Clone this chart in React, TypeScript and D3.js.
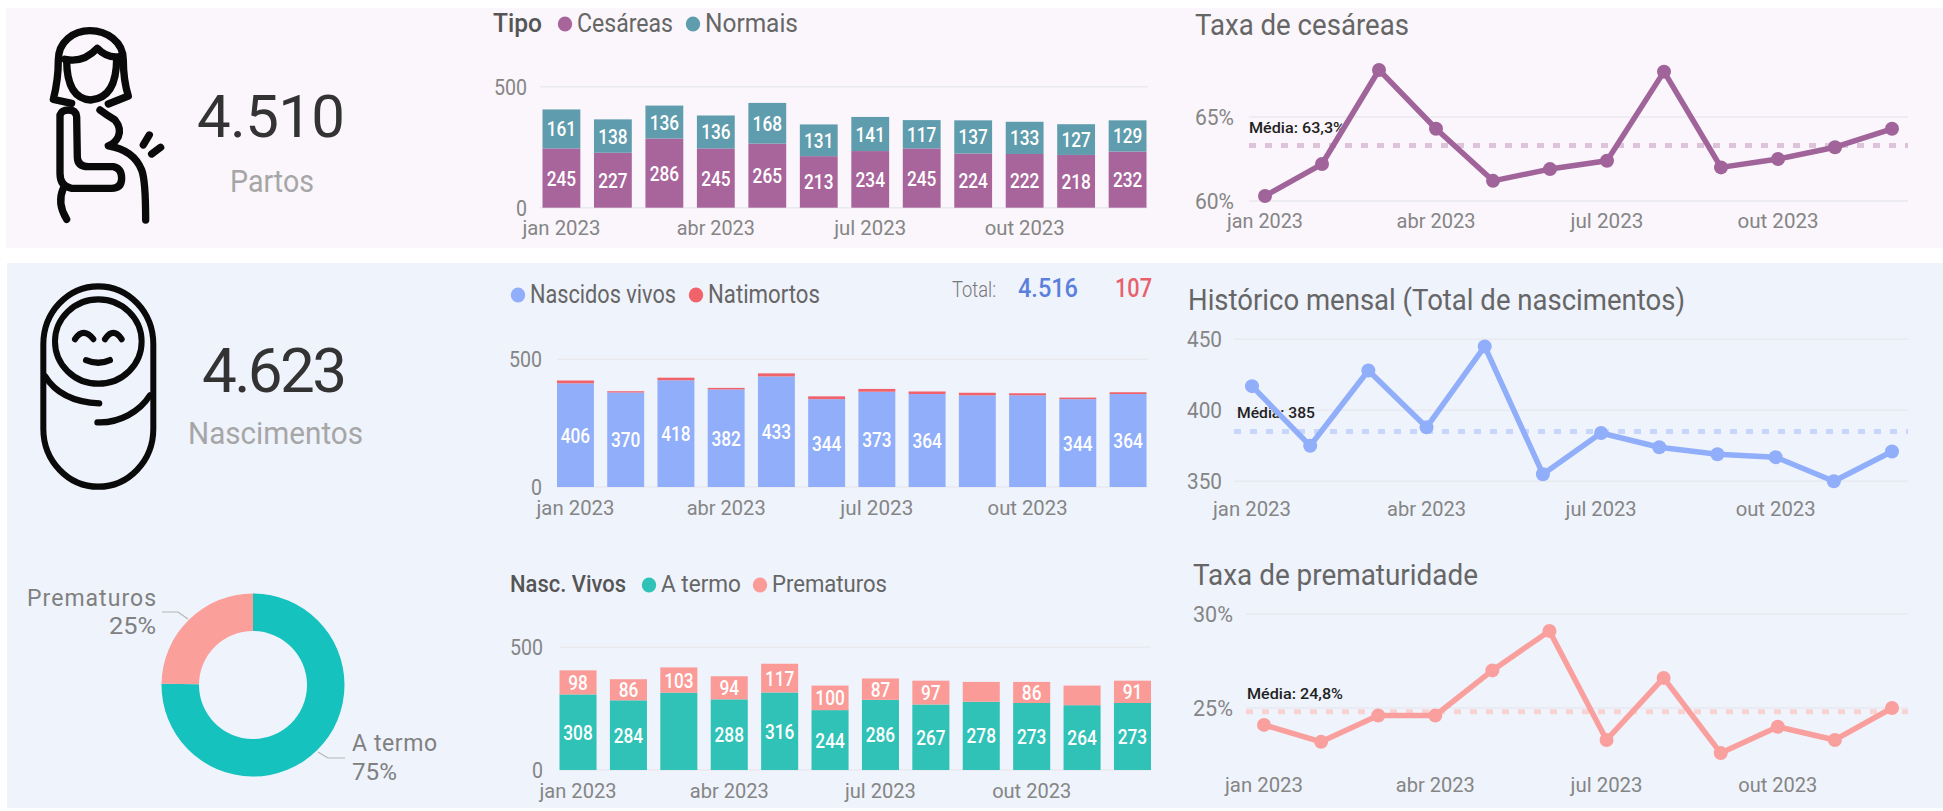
import React from "react";
import * as d3 from "d3";

const months = ["jan","fev","mar","abr","mai","jun","jul","ago","set","out","nov","dez"];
const tickLabels: Record<string,string> = { jan: "jan 2023", abr: "abr 2023", jul: "jul 2023", out: "out 2023" };

const cesareas = [245,227,286,245,265,213,234,245,224,222,218,232];
const normais = [161,138,136,136,168,131,141,117,137,133,127,129];
const nascidosVivos = [406,370,418,382,433,344,373,364,359,359,344,364];
const natimortos = [11,5,10,6,12,11,11,10,10,8,6,7];
const aTermo = [308,284,315,288,316,244,286,267,278,273,264,273];
const prematuros = [98,86,103,94,117,100,87,97,81,86,80,91];
const taxaCesareas = [60.3,62.2,67.8,64.3,61.2,61.9,62.4,67.7,62.0,62.5,63.2,64.3];
const totalNascimentos = [417,375,428,388,445,355,384,374,369,367,350,371];
const taxaPrematuridade = [24.1,23.2,24.6,24.6,27.0,29.1,23.3,26.6,22.6,24.0,23.3,25.0];
const donutLabels = ["A termo","Prematuros"];
const donutValues = [3396,1120];

const hiddenNascidos = ["set","out"];
const hiddenATermo = ["mar"];
const hiddenPrematuros = ["set","nov"];

const FONT = "Roboto, sans-serif";
const AXIS = "#858585";
const GRID = "#e9e9f0";

function T({x,y,w,a="start",s=20,c=AXIS,b=400,adj="spacingAndGlyphs",children}:any){
  return <text x={x} y={y} textAnchor={a} fontSize={s} fill={c} fontWeight={b} fontFamily={FONT}
    textLength={w} lengthAdjust={w?adj:undefined}>{children}</text>;
}

function Months({x,y,widths}:any){
  return <g>{months.filter(m=>tickLabels[m]).map((m,i)=>
    <T key={m} x={x(m)} y={y} a="middle" w={widths[i]} s={21}>{tickLabels[m]}</T>)}</g>;
}

function Stacked({x0,x1,y500,y0,gridX,a,b,colorA,colorB,hideA=[],hideB=[],labelB=true,tickX,monthY,monthW}:any){
  const x = d3.scaleBand<string>().domain(months).range([x0,x1]).paddingInner(0.265);
  const y = d3.scaleLinear().domain([0,500]).range([y0,y500]);
  const rows = months.map((m,i)=>({m,a:a[i],b:b[i]}));
  const series = d3.stack<any>().keys(["a","b"])(rows);
  const colors = [colorA,colorB];
  const hide = [hideA,hideB];
  const yTicks = [0,500];
  return <g>
    {yTicks.map(t=><line key={t} x1={gridX[0]} x2={gridX[1]} y1={y(t)} y2={y(t)} stroke={GRID} strokeWidth={1.5}/>)}
    {yTicks.map(t=><T key={t} x={tickX} y={y(t)+8} a="end" s={22} w={t?33:11}>{t}</T>)}
    {series.map((s,si)=><g key={s.key}>
      {s.map(d=><rect key={d.data.m} x={x(d.data.m)} width={x.bandwidth()} y={y(d[1])} height={y(d[0])-y(d[1])} fill={colors[si]}/>)}
      {(si===0||labelB)&&s.filter(d=>!hide[si].includes(d.data.m)).map(d=>
        <T key={d.data.m} x={x(d.data.m)!+x.bandwidth()/2} y={(y(d[0])+y(d[1]))/2+7.5} a="middle" s={21} b={500} c="#fff" w={String(d.data[s.key]).length*9.8}>{d.data[s.key]}</T>)}
    </g>)}
    <Months x={(m:string)=>x(m)!+x.bandwidth()/2} y={monthY} widths={monthW}/>
  </g>;
}

function LineChart({values,domain,yTop,yBot,ticks,fmt,xr,gridX,color,meanColor,mean,meanLabel,meanLabelX,meanLabelY,meanLabelW,tickX,tickW,monthY,monthW}:any){
  const x = d3.scalePoint<string>().domain(months).range(xr);
  const y = d3.scaleLinear().domain(domain).range([yBot,yTop]);
  const line = d3.line<number>().x((_,i)=>x(months[i])!).y(d=>y(d));
  return <g>
    {ticks.map((t:number)=><line key={t} x1={gridX[0]} x2={gridX[1]} y1={y(t)} y2={y(t)} stroke={GRID} strokeWidth={1.5}/>)}
    {ticks.map((t:number)=><T key={t} x={tickX} y={y(t)+8} s={22} w={tickW}>{fmt(t)}</T>)}
    <line x1={gridX[0]} x2={gridX[1]} y1={y(mean)} y2={y(mean)} stroke={meanColor} strokeWidth={5} strokeDasharray="7 9"/>
    <T x={meanLabelX} y={meanLabelY} s={15} b={500} c="#222" w={meanLabelW}>{meanLabel}</T>
    <path d={line(values)!} fill="none" stroke={color} strokeWidth={5.5} strokeLinejoin="round"/>
    {values.map((v:number,i:number)=><circle key={i} cx={x(months[i])} cy={y(v)} r={7} fill={color}/>)}
    <Months x={(m:string)=>x(m)} y={monthY} widths={monthW}/>
  </g>;
}

function LegendDot({x,y,c}:any){ return <ellipse cx={x} cy={y} rx={7.2} ry={7.5} fill={c}/>; }

function Woman(){
  return <g transform="scale(0.3333)" fill="none" stroke="#0a0a0a" strokeWidth={22} strokeLinecap="round" strokeLinejoin="round">
    <path d="M215,310 L160,298 Q175,240 175,180 C175,125 220,92 270,92 C320,92 370,125 370,180 Q370,240 385,288 L325,312"/>
    <path d="M200,180 Q200,295 272,300 Q350,295 350,175"/>
    <path d="M195,178 Q250,190 292,145 Q320,175 358,170"/>
    <path d="M180,345 Q185,330 205,330 Q228,330 230,350 L232,470 Q232,500 265,500 L340,500 Q365,505 365,535 Q365,565 335,565 L215,565 Q180,560 180,520 Z"/>
    <path d="M190,565 Q170,610 200,658"/>
    <path d="M300,330 Q320,345 345,360 Q365,385 355,410 Q345,430 325,438 Q400,450 425,510 Q437,540 437,660"/>
    <path d="M430,435 L448,405"/>
    <path d="M455,462 L482,442"/>
  </g>;
}

function Baby(){
  return <g transform="translate(0,260) scale(0.3333,0.3514)" fill="none" stroke="#0a0a0a" strokeWidth={18} strokeLinecap="round">
    <rect x={130} y={75} width={330} height={570} rx={165} ry={165}/>
    <ellipse cx={295} cy={232} rx={130} ry={120}/>
    <path d="M135,330 C170,385 230,405 298,408"/>
    <path d="M292,462 C360,465 420,430 450,385"/>
    <path d="M225,225 Q250,190 280,225"/>
    <path d="M315,225 Q340,190 365,225"/>
    <path d="M258,285 Q295,300 330,285"/>
  </g>;
}

function Donut(){
  const pie = d3.pie<number>().sort(null)(donutValues);
  const arc = d3.arc<any>().innerRadius(54).outerRadius(91.5);
  const colors = ["#15c2be","#fb9f9b"];
  return <g transform="translate(253,685)">
    {pie.map((p,i)=><path key={donutLabels[i]} d={arc(p)!} fill={colors[i]}/>)}
  </g>;
}

export default function App(){
  return <svg width={1943} height={811} style={{position:"absolute",left:0,top:0,background:"#fff"}}>
    <rect x={6} y={8} width={1937} height={240} fill="#faf6fb"/>
    <rect x={7} y={263} width={1936} height={545} fill="#eff3fc"/>

    <Woman/>
    <T x={197} y={137} s={60} c="#333" w={148} adj="spacing">4.510</T>
    <T x={230} y={192} s={31} c="#a6a6a6" w={84}>Partos</T>

    <T x={493} y={32} s={25} b={500} c="#555" w={49}>Tipo</T>
    <LegendDot x={565} y={24} c="#a8659b"/>
    <T x={577} y={32} s={25} c="#666" w={96}>Cesáreas</T>
    <LegendDot x={693} y={24} c="#5f9cad"/>
    <T x={705} y={32} s={25} c="#666" w={93}>Normais</T>
    <Stacked x0={542.5} x1={1146.5} y500={86.7} y0={207.7} gridX={[540,1148]} a={cesareas} b={normais} colorA="#a8659b" colorB="#5f9cad" tickX={527} monthY={235} monthW={[78,78,72,80]}/>

    <T x={1195} y={35} s={29} c="#666" w={214}>Taxa de cesáreas</T>
    <LineChart values={taxaCesareas} domain={[60,65]} yBot={201} yTop={117} ticks={[60,65]} fmt={(t:number)=>t+"%"} xr={[1265,1892]} gridX={[1249,1908]} color="#a0649a" meanColor="#dcc3da" mean={63.3} meanLabel="Média: 63,3%" meanLabelX={1249} meanLabelY={133} meanLabelW={96} tickX={1195} tickW={39} monthY={228} monthW={[76,79,73,81]}/>

    <Baby/>
    <T x={202} y={392} s={62} c="#333" w={145} adj="spacing">4.623</T>
    <T x={188} y={444} s={32} c="#a6a6a6" w={175}>Nascimentos</T>

    <LegendDot x={518} y={295} c="#91aefa"/>
    <T x={530} y={303} s={25} c="#666" w={146}>Nascidos vivos</T>
    <LegendDot x={696} y={295} c="#f0636b"/>
    <T x={708} y={303} s={25} c="#666" w={112}>Natimortos</T>
    <T x={952} y={297} s={22} b={300} c="#777" w={44}>Total:</T>
    <T x={1018} y={297} s={25} b={500} c="#5b7fdc" w={60}>4.516</T>
    <T x={1115} y={297} s={25} b={500} c="#e8606a" w={37}>107</T>
    <Stacked x0={557} x1={1146.5} y500={359.3} y0={487} gridX={[557,1148]} a={nascidosVivos} b={natimortos} colorA="#91aefa" colorB="#f0636b" hideA={hiddenNascidos} labelB={false} tickX={542} monthY={515} monthW={[78,79,73,80]}/>

    <T x={1188} y={310} s={29} c="#666" w={497}>Histórico mensal (Total de nascimentos)</T>
    <LineChart values={totalNascimentos} domain={[350,450]} yBot={481.3} yTop={339.3} ticks={[350,400,450]} fmt={(t:number)=>t} xr={[1252,1892]} gridX={[1234,1908]} color="#91aefa" meanColor="#c8d6fb" mean={385} meanLabel="Média: 385" meanLabelX={1237} meanLabelY={418} meanLabelW={78} tickX={1187} tickW={35} monthY={516} monthW={[78,79,71,80]}/>

    <Donut/>
    <polyline points="162,612 178,612 188,619" fill="none" stroke="#b5b5b5" strokeWidth={1.2}/>
    <polyline points="318,752 328,758 345,758" fill="none" stroke="#b5b5b5" strokeWidth={1.2}/>
    <T x={156} y={606} a="end" s={23} c="#808080" w={129} adj="spacing">Prematuros</T>
    <T x={156} y={634} a="end" s={23} c="#808080" w={47}>25%</T>
    <T x={352} y={751} s={23} c="#808080" w={85} adj="spacing">A termo</T>
    <T x={352} y={780} s={23} c="#808080" w={45}>75%</T>

    <T x={510} y={592} s={23} b={500} c="#555" w={116}>Nasc. Vivos</T>
    <LegendDot x={649} y={585} c="#30c2b6"/>
    <T x={661} y={592} s={23} c="#666" w={80}>A termo</T>
    <LegendDot x={760} y={585} c="#fb9b98"/>
    <T x={772} y={592} s={23} c="#666" w={115}>Prematuros</T>
    <Stacked x0={559.5} x1={1151} y500={647.3} y0={770} gridX={[559.5,1151]} a={aTermo} b={prematuros} colorA="#30c2b6" colorB="#fb9b98" hideA={hiddenATermo} hideB={hiddenPrematuros} tickX={543} monthY={798} monthW={[77,79,71,79]}/>

    <T x={1193} y={585} s={29} c="#666" w={285}>Taxa de prematuridade</T>
    <LineChart values={taxaPrematuridade} domain={[25,30]} yBot={708} yTop={614} ticks={[25,30]} fmt={(t:number)=>t+"%"} xr={[1264,1892]} gridX={[1246,1908]} color="#f9a09e" meanColor="#f9d2d2" mean={24.8} meanLabel="Média: 24,8%" meanLabelX={1247} meanLabelY={699} meanLabelW={96} tickX={1193} tickW={40} monthY={792} monthW={[78,79,72,79]}/>
  </svg>;
}
